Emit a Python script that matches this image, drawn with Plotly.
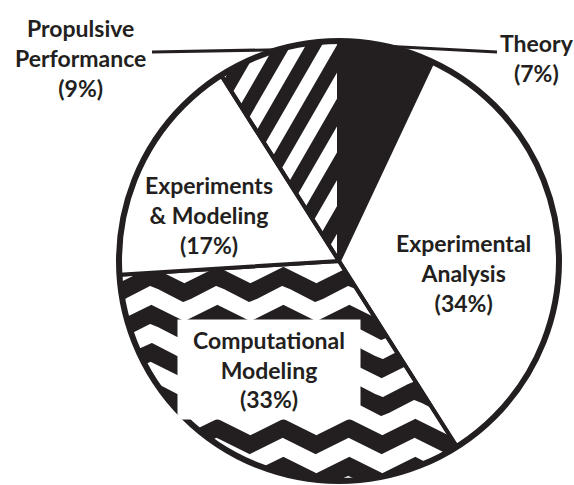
import numpy as np
import plotly.graph_objects as go

# ---- data ----
labels = ["Theory", "Experimental Analysis", "Computational Modeling",
          "Experiments & Modeling", "Propulsive Performance"]
values = [7, 34, 33, 17, 9]
label_text = ["Theory<br>(7%)", "Experimental<br>Analysis<br>(34%)",
              "Computational<br>Modeling<br>(33%)",
              "Experiments<br>& Modeling<br>(17%)",
              "Propulsive<br>Performance<br>(9%)"]

# ---- layout geometry ----
W, H = 574, 485
ML, MR, MT, MB = 119, 15, 41, 4
SIDE = W - ML - MR          # 440
R = SIDE / 2.0              # pie radius in px
CX, CY = ML + R, MT + R     # pie centre in px
INK = "#231f20"

def px2d(px, py):
    return (px - CX) / R, (CY - py) / R

def d2paper(xd, yd):
    return (xd + 1) / 2, (yd + 1) / 2

def px2paper(px, py):
    return (px - ML) / SIDE, (H - MB - py) / SIDE

# slice angles from data (clockwise from 12 o'clock)
tot = float(sum(values))
cum = np.concatenate([[0], np.cumsum(values)]) / tot * 360.0
mid_cw = (cum[:-1] + cum[1:]) / 2.0

def cw_point(a_deg, r=1.0):
    t = np.radians(90 - a_deg)
    return r * np.cos(t), r * np.sin(t)

# ---- zigzag texture for the Computational Modeling slice (clipped to disk, lower half) ----
def zigzag_polys():
    xs_all, ys_all = [], []
    pxs = np.arange(CX - R, CX + R + 0.01, 0.25)
    period, amp, half_t = 66.0, 17.0, 9.5
    for m in range(-3, 9):
        base = 276 + 38 * m
        s = np.mod(pxs - 217, period)
        d = np.minimum(s, period - s)
        c = base + amp * d / (period / 2)
        bottom = CY + np.sqrt(np.maximum(R**2 - (pxs - CX)**2, 0))
        lo = np.maximum(c - half_t, CY)
        hi = np.minimum(c + half_t, bottom)
        ok = lo < hi
        i = 0
        n = len(pxs)
        while i < n:
            if not ok[i]:
                i += 1
                continue
            j = i
            while j < n and ok[j]:
                j += 1
            seg = slice(i, j)
            px_seg = pxs[seg]
            xs = np.concatenate([px_seg, px_seg[::-1]])
            ys = np.concatenate([lo[seg], hi[seg][::-1]])
            xd, yd = px2d(xs, ys)
            xs_all += list(xd) + [None]
            ys_all += list(yd) + [None]
            i = j
    return xs_all, ys_all

# ---- diagonal stripes for the Propulsive Performance slice (clipped to disk, upper half) ----
def stripe_polys():
    k_ = 1.0 / np.tan(np.radians(60))
    xs_all, ys_all = [], []
    for kk in range(-20, 20):
        uc = 340 + 31 * kk
        us = np.linspace(uc - 8, uc + 8, 60)
        lo_pts, hi_pts = [], []
        for u in us:
            a = k_**2 + 1
            b = -2 * k_ * (u - CX) - 2 * CY
            c = (u - CX)**2 + CY**2 - R**2
            disc = b * b - 4 * a * c
            if disc <= 0:
                continue
            p1 = (-b - np.sqrt(disc)) / (2 * a)
            p2 = (-b + np.sqrt(disc)) / (2 * a)
            p2 = min(p2, CY)
            if p1 >= p2:
                continue
            lo_pts.append((u - k_ * p1, p1))
            hi_pts.append((u - k_ * p2, p2))
        if len(lo_pts) < 2:
            continue
        pts = lo_pts + hi_pts[::-1]
        xd, yd = px2d(np.array([p[0] for p in pts]), np.array([p[1] for p in pts]))
        xs_all += list(xd) + [None]
        ys_all += list(yd) + [None]
    return xs_all, ys_all

fig = go.Figure()

zx, zy = zigzag_polys()
fig.add_trace(go.Scatter(x=zx, y=zy, mode="lines", fill="toself", fillcolor=INK,
                         line=dict(width=0, color=INK), hoverinfo="skip", showlegend=False))
sx, sy = stripe_polys()
fig.add_trace(go.Scatter(x=sx, y=sy, mode="lines", fill="toself", fillcolor=INK,
                         line=dict(width=0, color=INK), hoverinfo="skip", showlegend=False))

fills = [INK, "white", "rgba(0,0,0,0)", "white", "rgba(0,0,0,0)"]
fig.add_trace(go.Pie(labels=labels, values=values, sort=False, direction="clockwise",
                     rotation=0, textinfo="none", hoverinfo="label+percent",
                     marker=dict(colors=fills, line=dict(color=INK, width=4)),
                     domain=dict(x=[0, 1], y=[0, 1]), showlegend=False))

shapes = [dict(type="circle", xref="paper", yref="paper", x0=0, x1=1, y0=0, y1=1,
               line=dict(color=INK, width=6), layer="above")]

# leader lines from slice mid-edge to labels
for idx, end_px in [(4, (152, 52)), (0, (497, 52))]:
    sxp, syp = d2paper(*cw_point(mid_cw[idx]))
    exp_, eyp = px2paper(*end_px)
    shapes.append(dict(type="line", xref="paper", yref="paper", x0=sxp, y0=syp,
                       x1=exp_, y1=eyp, line=dict(color=INK, width=3), layer="above"))

font = dict(family="Lato", size=23, color=INK, weight="bold")
label_pos = {0: (537, 58), 1: (463, 273), 2: (269, 369), 3: (209, 215), 4: (80, 58)}
annotations = []
for idx, (lx, ly) in label_pos.items():
    xp, yp = px2paper(lx, ly)
    a = dict(x=xp, y=yp, xref="paper", yref="paper", text=label_text[idx], showarrow=False,
             font=font, xanchor="center", yanchor="middle", align="center")
    if idx == 2:
        a.update(bgcolor="white", width=180, height=97, borderpad=1)
    annotations.append(a)

fig.update_layout(width=W, height=H, autosize=False,
                  margin=dict(l=ML, r=MR, t=MT, b=MB, pad=0),
                  paper_bgcolor="white", plot_bgcolor="white",
                  xaxis=dict(range=[-1, 1], visible=False, fixedrange=True),
                  yaxis=dict(range=[-1, 1], visible=False, fixedrange=True),
                  shapes=shapes, annotations=annotations, showlegend=False)

fig.write_html("out.html", config={"displayModeBar": False},
               post_script="document.body.style.margin='0px';document.body.style.overflow='hidden';")
